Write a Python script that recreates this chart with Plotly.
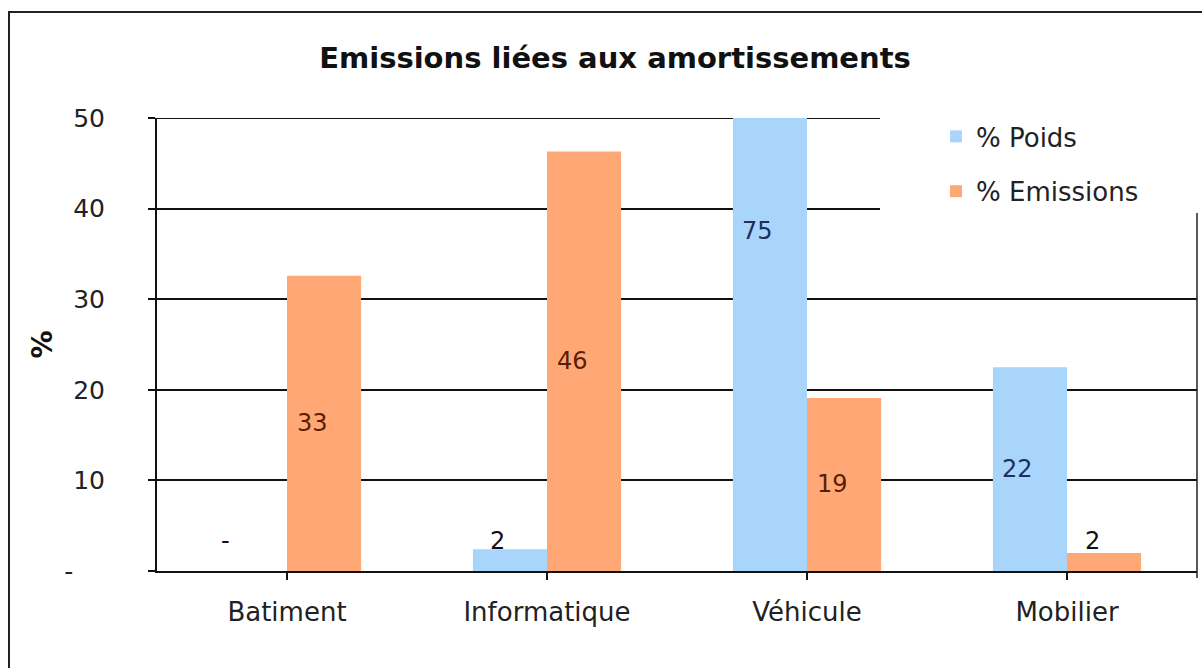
import plotly.graph_objects as go

# ---- data ----
categories = ["Batiment", "Informatique", "Véhicule", "Mobilier"]
poids = [0.0, 2.4, 75.1, 22.5]
emissions = [32.6, 46.3, 19.1, 2.0]
series_names = ["% Poids", "% Emissions"]
y_tickvals = [0, 10, 20, 30, 40, 50]
y_ticktext = ["-\u00a0\u00a0\u00a0\u00a0", "10", "20", "30", "40", "50"]
title_text = "Emissions liées aux amortissements"
y_title = "%"

# ---- style ----
FONT = "DejaVu Sans"
C_POIDS = "#A9D5FB"
C_EMIS = "#FFA876"
LBL_POIDS = "#1F2E5E"
LBL_EMIS = "#5A1E05"
W, H = 1202, 668
L, R, T, B = 157, 5, 118, 97
BARGAP = 0.43
MIN_LABEL = 3.3  # label centre floor (data units) for tiny bars
LABEL_XSHIFT = -12
YMAX = 50

fig = go.Figure()
x_idx = list(range(len(categories)))
for name, vals, col in [(series_names[0], poids, C_POIDS), (series_names[1], emissions, C_EMIS)]:
    fig.add_trace(go.Bar(x=x_idx, y=vals, name=name, marker=dict(color=col, line=dict(width=0)),
                         legendgroup=name))

# data labels as annotations (centred in the bar; floor for tiny bars)
bw = (1 - BARGAP) / 2
for vals, off, col in [(poids, -bw / 2, LBL_POIDS), (emissions, bw / 2, LBL_EMIS)]:
    for i, v in enumerate(vals):
        txt = "-" if round(v) == 0 else str(int(round(v)))
        yc = max(v / 2, MIN_LABEL)
        small = v / 2 < MIN_LABEL
        fig.add_annotation(x=i + off, y=yc, xref="x", yref="y", text=txt, showarrow=False,
                           xshift=LABEL_XSHIFT * (2 if round(v) == 0 else 1),
                           font=dict(family=FONT, size=24, color="#111111" if small else col),
                           xanchor="center", yanchor="middle")

def px_x(p):
    return (p - L) / (W - L - R)

def px_y(p):
    return (H - B - p) / (H - T - B)

# y-axis title
fig.add_annotation(x=px_x(42), y=0.5, xref="paper", yref="paper", text="<b>" + y_title + "</b>",
                   textangle=-90, showarrow=False, xanchor="center", yanchor="middle",
                   font=dict(family=FONT, size=28, color="#111111"))

shapes = [
    # top gridline at the range maximum (drawn explicitly)
    dict(type="line", xref="paper", yref="y", x0=0, x1=1, y0=YMAX, y1=YMAX,
         line=dict(color="#111111", width=2), layer="below"),
    # legend background box (covers gridlines behind legend)
    dict(type="rect", xref="paper", yref="paper", x0=px_x(880), x1=px_x(1202), y0=px_y(213), y1=px_y(14),
         fillcolor="white", line=dict(width=0), layer="above"),
    # chart frame: top and left edges
    dict(type="line", xref="paper", yref="paper", x0=px_x(8), x1=px_x(1202), y0=px_y(12), y1=px_y(12),
         line=dict(color="#222222", width=2), layer="above"),
    dict(type="line", xref="paper", yref="paper", x0=px_x(9), x1=px_x(9), y0=px_y(12), y1=px_y(668),
         line=dict(color="#222222", width=2), layer="above"),
    # right edge below legend
    dict(type="line", xref="paper", yref="paper", x0=1, x1=1, y0=px_y(213), y1=px_y(578),
         line=dict(color="#222222", width=1.5), layer="above"),
]

fig.update_layout(
    width=W, height=H,
    margin=dict(l=L, r=R, t=T, b=B),
    paper_bgcolor="white", plot_bgcolor="white",
    barmode="group", bargap=BARGAP, bargroupgap=0,
    font=dict(family=FONT, size=24, color="#222222"),
    title=dict(text="<b>" + title_text + "</b>", x=615 / W, xref="container", xanchor="center",
               y=1 - 58 / H, yref="container", yanchor="middle",
               font=dict(family=FONT, size=29, color="#111111")),
    legend=dict(x=px_x(936), y=px_y(113), xref="paper", yref="paper", xanchor="left", yanchor="top",
                bgcolor="rgba(255,255,255,0)", font=dict(family=FONT, size=26, color="#222222"),
                tracegroupgap=18, itemwidth=30),
    shapes=shapes,
    showlegend=True,
)
fig.update_xaxes(
    range=[-0.5, len(categories) - 0.5], tickvals=x_idx, ticktext=categories,
    showline=True, linecolor="#111111", linewidth=2,
    ticks="outside", ticklen=7, tickwidth=1.5, tickcolor="#111111", tickson="boundaries",
    showgrid=False, zeroline=False, ticklabelstandoff=10,
    tickfont=dict(family=FONT, size=26, color="#222222"),
)
fig.update_yaxes(
    range=[0, YMAX], tickvals=y_tickvals, ticktext=y_ticktext,
    showline=True, linecolor="#111111", linewidth=2,
    ticks="outside", ticklen=7, tickwidth=1.5, tickcolor="#111111",
    showgrid=True, gridcolor="#111111", gridwidth=2, zeroline=False,
    ticklabelstandoff=38,
    tickfont=dict(family=FONT, size=25, color="#222222"),
)

fig.write_html("out.html", post_script="document.body.style.margin='0';",
               config={"displayModeBar": False})
